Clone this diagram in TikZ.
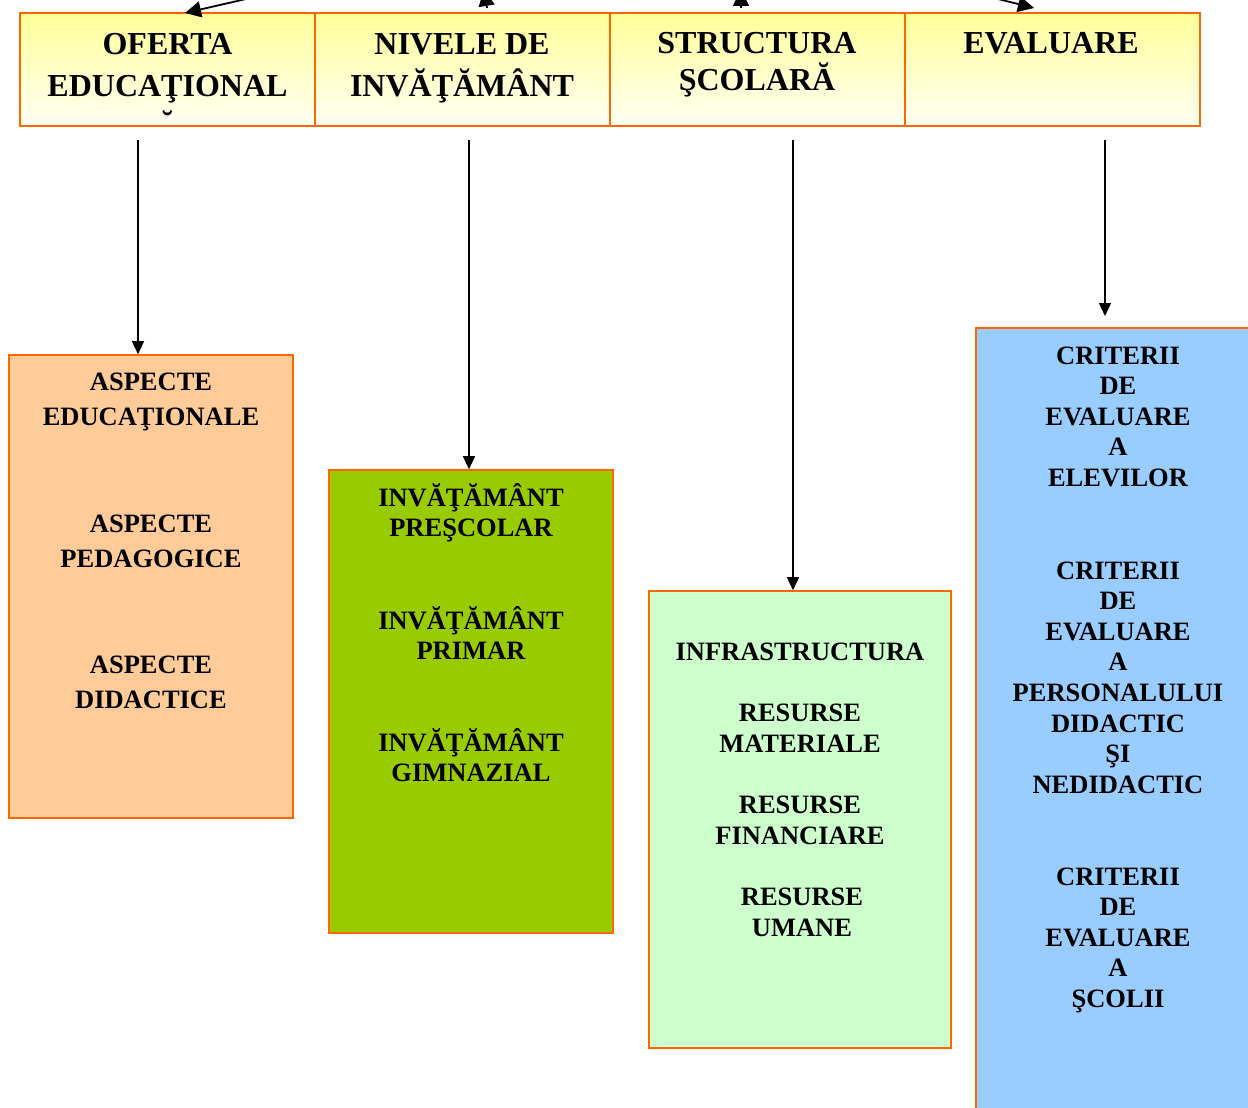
\documentclass[tikz,border=0pt]{standalone}
\usepackage{fontspec}
\setmainfont{Liberation Serif}
\usetikzlibrary{arrows.meta}
\definecolor{org}{HTML}{FF6600}
\definecolor{hdtop}{HTML}{FFFF99}
\definecolor{hdbot}{HTML}{FFFFF4}
\definecolor{peach}{HTML}{FFCC99}
\definecolor{lime}{HTML}{99CC00}
\definecolor{mint}{HTML}{CCFFCC}
\definecolor{sky}{HTML}{99CCFF}
\begin{document}
\begin{tikzpicture}[x=1pt,y=-1pt,
 hbox/.style={draw=org, line width=2pt, top color=hdtop, bottom color=hdbot, minimum width=295pt, minimum height=113pt, inner sep=0pt},
 cbox/.style={draw=org, line width=1.6pt, inner sep=0pt},
 htxt/.style={font=\bfseries\fontsize{32}{#1}\selectfont, align=center, anchor=base, inner sep=0pt},
 htxt/.default=42,
 btxt/.style={font=\bfseries\fontsize{26.5}{#1}\selectfont, align=center, anchor=base, inner sep=0pt},
 btxt/.default=30.5,
 arr/.style={line width=1.4pt, -{Triangle[length=13pt,width=12pt]}},
 tarr/.style={line width=1.8pt, -{Triangle[length=16pt,width=16pt]}}]
\useasboundingbox (0,0) rectangle (1248,1108);
\clip (0,0) rectangle (1248,1108);

% header boxes
\node[hbox] (h1) at (167.5,69.5) {};
\node[hbox] (h2) at (462.5,69.5) {};
\node[hbox] (h3) at (757.5,69.5) {};
\node[hbox] (h4) at (1052.5,69.5) {};

% content boxes
\node[cbox, fill=peach, minimum width=284pt, minimum height=463pt] (b1) at (151,586.5) {};
\node[cbox, fill=lime, minimum width=284pt, minimum height=463pt] (b2) at (471,701.5) {};
\node[cbox, fill=mint, minimum width=302pt, minimum height=457pt] (b3) at (800,819.5) {};
\node[cbox, fill=sky, minimum width=284pt, minimum height=792pt] (b4) at (1118,724) {};

% header texts (anchored at the baseline of the last line)
\begin{scope}
\clip (20,13) rectangle (315,116);
\node[htxt] (h1t) at (167.5,138) {OFERTA\\EDUCAŢIONAL\\Ă};
\end{scope}
\node[htxt] (h2t) at (462,96) {NIVELE DE\\INVĂŢĂMÂNT};
\node[htxt=37] (h3t) at (757,91) {STRUCTURA\\ŞCOLARĂ};
\node[htxt] (h4t) at (1051,54) {EVALUARE};

% body texts
\node[btxt=35.5] (a1) at (151,425.5) {ASPECTE\\EDUCAŢIONALE};
\node[btxt=35.5] (a2) at (151,567.5) {ASPECTE\\PEDAGOGICE};
\node[btxt=35.5] (a3) at (151,708.5) {ASPECTE\\DIDACTICE};

\node[btxt=30] (n1) at (471,536) {INVĂŢĂMÂNT\\PREŞCOLAR};
\node[btxt=30] (n2) at (471,659) {INVĂŢĂMÂNT\\PRIMAR};
\node[btxt=30] (n3) at (471,781) {INVĂŢĂMÂNT\\GIMNAZIAL};

\node[btxt=31] (r0) at (800,660) {INFRASTRUCTURA};
\node[btxt=31] (r1) at (800,752) {RESURSE\\MATERIALE};
\node[btxt=31] (r2) at (800,844) {RESURSE\\FINANCIARE};
\node[btxt=31] (r3) at (802,936) {RESURSE\\UMANE};

\node[btxt=30.6] (c1) at (1118,486.4) {CRITERII\\DE\\EVALUARE\\A\\ELEVILOR};
\node[btxt=30.6] (c2) at (1118,793.2) {CRITERII\\DE\\EVALUARE\\A\\PERSONALULUI\\DIDACTIC\\ŞI\\NEDIDACTIC};
\node[btxt=30.6] (c3) at (1118,1007.4) {CRITERII\\DE\\EVALUARE\\A\\ŞCOLII};

% vertical connectors
\coordinate (v1) at (138,140);
\coordinate (v2) at (469,140);
\coordinate (v3) at (793,140);
\coordinate (v4) at (1105,140);
\coordinate (e4) at (1105,316);
\draw[arr] (v1) -- (v1 |- b1.north);
\draw[arr] (v2) -- (v2 |- b2.north);
\draw[arr] (v3) -- (v3 |- b3.north);
\draw[arr] (v4) -- (e4);

% connectors from above (cut off)
\coordinate (s1) at (246,-1);
\coordinate (t1) at (185,13);
\coordinate (s2) at (487,8);
\coordinate (t2) at (484,-10);
\coordinate (s3) at (741,8);
\coordinate (t3) at (741,-10);
\coordinate (s4) at (990,-3);
\coordinate (t4) at (1034,8);
\draw[tarr] (s1) -- (t1);
\draw[tarr] (s2) -- (t2);
\draw[tarr] (s3) -- (t3);
\draw[tarr] (s4) -- (t4);
\end{tikzpicture}
\end{document}
